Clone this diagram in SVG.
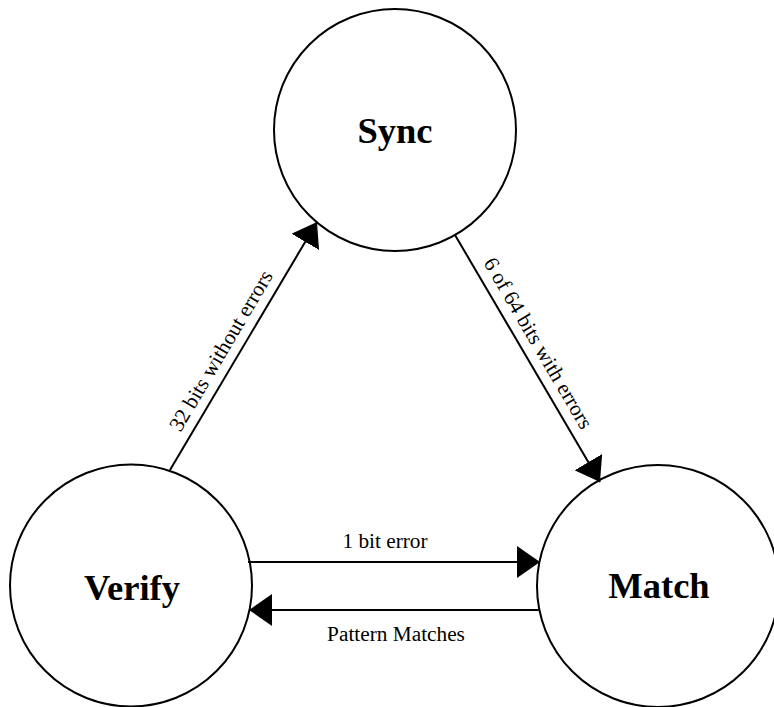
<svg xmlns="http://www.w3.org/2000/svg" width="774" height="707" viewBox="0 0 774 707">
<style>
.node{fill:#fff;stroke:#000;stroke-width:2}
.name{font-family:"Liberation Serif","Times New Roman",serif;font-weight:bold;font-size:36.5px;text-anchor:middle;fill:#000}
.lbl{font-family:"Liberation Serif","Times New Roman",serif;font-size:21.3px;text-anchor:middle;fill:#000}
.edge{stroke:#000;stroke-width:2;fill:none;marker-end:url(#ah)}
</style>
<defs>
<marker id="ah" markerUnits="userSpaceOnUse" markerWidth="24" markerHeight="32" refX="23" refY="16" orient="auto">
<path d="M0,0 L23,16 L0,32 Z" fill="#000"/>
</marker>
</defs>
<rect width="774" height="707" fill="#fff"/>
<g id="sync"><circle class="node" cx="395" cy="130" r="121"/><text class="name" x="395" y="143">Sync</text></g>
<g id="verify"><circle class="node" cx="131" cy="585.5" r="121"/><text class="name" x="132" y="600">Verify</text></g>
<g id="match"><circle class="node" cx="658" cy="586" r="121"/><text class="name" x="659" y="598">Match</text></g>
<g id="connectors">
<line class="edge" x1="170" y1="470" x2="317" y2="222"/>
<line class="edge" x1="455" y1="235" x2="600" y2="482"/>
<line class="edge" x1="248" y1="562" x2="540" y2="562"/>
<line class="edge" x1="540" y1="610" x2="249" y2="610"/>
<text class="lbl" transform="translate(235.6,359.3) rotate(-59.35)" x="0" y="-10">32 bits without errors</text>
<text class="lbl" transform="translate(523.6,351.8) rotate(59.58)" x="0" y="-10">6 of 64 bits with errors</text>
<text class="lbl" x="385" y="547.5">1 bit error</text>
<text class="lbl" x="396" y="641">Pattern Matches</text>
</g>
</svg>
